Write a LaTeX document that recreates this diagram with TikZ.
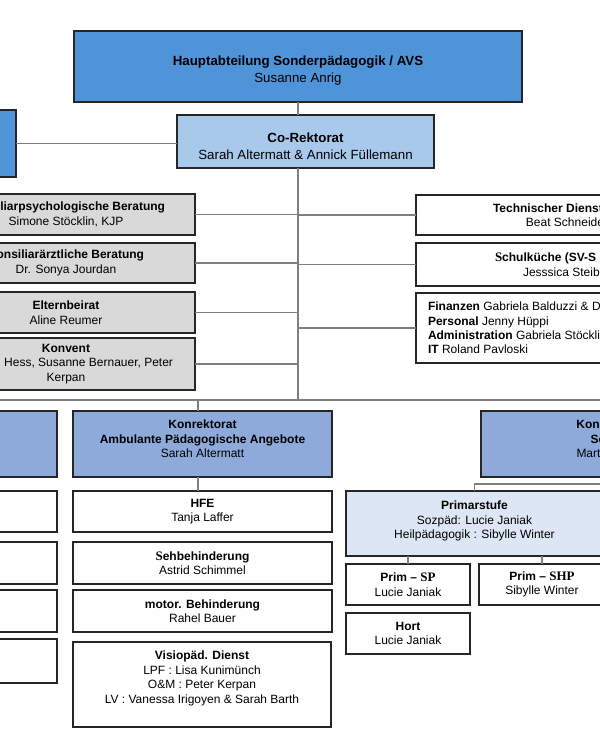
\documentclass[tikz,border=0pt]{standalone}
\usepackage{fontspec}
\setmainfont{Liberation Sans}
\newfontfamily\serifb[Scale=1.08]{Liberation Serif}
\definecolor{topblue}{HTML}{4F93D9}
\definecolor{coblue}{HTML}{A9C9EC}
\definecolor{konblue}{HTML}{8EAADB}
\definecolor{primblue}{HTML}{DCE6F4}
\definecolor{boxgray}{HTML}{D9D9D9}
\definecolor{edgecol}{HTML}{262626}
\definecolor{conncol}{HTML}{7F7F7F}
\newcommand\fsmall{\fontsize{12}{14.5}\selectfont}
\newcommand\fbig{\fontsize{13.3}{16.5}\selectfont}
\begin{document}
\begin{tikzpicture}[x=1pt,y=-1pt,
  box/.style={draw=edgecol, line width=1.2pt, inner sep=0pt, outer sep=0pt, align=center, font=\fsmall},
  conn/.style={draw=conncol, line width=1.5pt}]
\useasboundingbox (0,0) rectangle (600,740);
\clip (0,0) rectangle (600,740);
\fill[white] (0,0) rectangle (600,740);

% top
\node[box, fill=topblue, minimum width=448pt, minimum height=71pt, font=\fbig] (haupt) at (298,66.5)
  {\parbox[c][71pt][t]{448pt}{\centering\vspace*{25pt}\textbf{Hauptabteilung Sonderpädagogik / AVS}\\Susanne Anrig}};
\node[box, fill=coblue, minimum width=257pt, minimum height=53pt, font=\fbig] (co) at (305.5,141.5)
  {\parbox[c][53pt][t]{257pt}{\centering\vspace*{18pt}\textbf{Co-Rektorat}\\Sarah Altermatt \& Annick Füllemann}};
\node[box, fill=topblue, minimum width=76pt, minimum height=67pt] (lefttop) at (-22,143.5) {};

% left gray
\node[box, fill=boxgray, minimum width=258pt, minimum height=41pt] (kpb) at (66,214.5)
  {\textbf{Konsiliarpsychologische Beratung}\\Simone Stöcklin, KJP};
\node[box, fill=boxgray, minimum width=258pt, minimum height=40pt] (kab) at (66,263)
  {\textbf{Konsiliarärztliche Beratung}\\Dr. Sonya Jourdan};
\node[box, fill=boxgray, minimum width=258pt, minimum height=41pt] (eltern) at (66,312.5)
  {\textbf{Elternbeirat}\\Aline Reumer};
\node[box, fill=boxgray, minimum width=258pt, minimum height=52pt] (konvent) at (66,364)
  {\textbf{Konvent}\\\makebox[214pt][r]{Hess, Susanne Bernauer, Peter}\\Kerpan};

% right white
\node[box, fill=white, minimum width=302pt, minimum height=40pt] (tech) at (567,215)
  {\makebox[148pt][l]{\textbf{Technischer Dienst}}\\Beat Schneider};
\node[box, fill=white, minimum width=302pt, minimum height=43pt] (kueche) at (567,264.5)
  {\makebox[144pt][l]{\textbf{{\serifb S}chulküche (SV-S}}\\\makebox[88pt][l]{Jesssica Steib}};
\node[box, fill=white, minimum width=302pt, minimum height=70pt] (verw) at (567,328)
  {\parbox{302pt}{\fontsize{12}{14.2}\selectfont\raggedright\leftskip=12pt\relax
   \textbf{Finanzen} Gabriela Balduzzi \& D\\
   \textbf{Personal} Jenny Hüppi\\
   \textbf{Administration} Gabriela Stöckli\\
   \textbf{IT} Roland Pavloski}};

% konrektorate
\node[box, fill=konblue, minimum width=257pt, minimum height=66pt] (konL) at (-71.5,444) {};
\node[box, fill=konblue, minimum width=259pt, minimum height=66pt] (konA) at (202.5,444)
  {\parbox[c][66pt][t]{259pt}{\centering\vspace*{9pt}\textbf{Konrektorat}\\\textbf{Ambulante Pädagogische Angebote}\\Sarah Altermatt}};
\node[box, fill=konblue, minimum width=259pt, minimum height=66pt] (konR) at (610.5,444)
  {\parbox[c][66pt][t]{259pt}{\centering\vspace*{9pt}\textbf{Konrektorat}\\\makebox[40pt][l]{\textbf{Se}}\\\makebox[68pt][l]{Mart}}};

% left white column
\node[box, fill=white, minimum width=257pt, minimum height=41pt] (wl1) at (-71.5,511.5) {};
\node[box, fill=white, minimum width=257pt, minimum height=42pt] (wl2) at (-71.5,563) {};
\node[box, fill=white, minimum width=257pt, minimum height=42pt] (wl3) at (-71.5,611) {};
\node[box, fill=white, minimum width=257pt, minimum height=44pt] (wl4) at (-71.5,661) {};

% APA column
\node[box, fill=white, minimum width=259pt, minimum height=41pt] (hfe) at (202.5,511.5)
  {\textbf{HFE}\\Tanja Laffer};
\node[box, fill=white, minimum width=259pt, minimum height=42pt] (seh) at (202.5,563)
  {\textbf{{\serifb S}ehbehinderung}\\Astrid Schimmel};
\node[box, fill=white, minimum width=259pt, minimum height=42pt] (mot) at (202.5,611)
  {\textbf{motor. Behinderung}\\Rahel Bauer};
\node[box, fill=white, minimum width=258pt, minimum height=85pt] (vis) at (202,684.5)
  {\parbox[c][85pt][t]{258pt}{\centering\vspace*{9pt}\textbf{Visiopäd. Dienst}\\LPF : Lisa Kunimünch\\O\&M : Peter Kerpan\\LV : Vanessa Irigoyen \& Sarah Barth}};

% Primarstufe
\node[box, fill=primblue, minimum width=257pt, minimum height=65pt] (prim) at (474.5,523.5)
  {\parbox[c][65pt][t]{257pt}{\centering\vspace*{10pt}\textbf{Primarstufe}\\Sozpäd: Lucie Janiak\\Heilpädagogik : Sibylle Winter}};
\node[box, fill=white, minimum width=124pt, minimum height=41pt] (psp) at (408,584.5)
  {\textbf{Prim – {\serifb SP}}\\Lucie Janiak};
\node[box, fill=white, minimum width=126pt, minimum height=41pt] (pshp) at (542,584.5)
  {\textbf{Prim – {\serifb SHP}}\\Sibylle Winter};
\node[box, fill=white, minimum width=124pt, minimum height=41pt] (hort) at (408,633.5)
  {\textbf{Hort}\\Lucie Janiak};

% connectors
\coordinate (spine) at (298,400);
\coordinate (busW) at (-10,400);
\coordinate (busE) at (700,400);
\coordinate (konAtap) at (198,400);
\coordinate (konRj) at (610.5,484);
\draw[conn] (haupt.south) -- (haupt.south |- co.north);
\draw[conn] (lefttop.east) -- (lefttop.east -| co.west);
\draw[conn] (spine |- co.south) -- (spine);
\draw[conn] (kpb.east) -- (kpb.east -| spine);
\draw[conn] (kab.east) -- (kab.east -| spine);
\draw[conn] (eltern.east) -- (eltern.east -| spine);
\draw[conn] (konvent.east) -- (konvent.east -| spine);
\draw[conn] (tech.west) -- (tech.west -| spine);
\draw[conn] (kueche.west) -- (kueche.west -| spine);
\draw[conn] (verw.west) -- (verw.west -| spine);
\draw[conn] (busW) -- (busE);
\draw[conn] (konAtap) -- (konAtap |- konA.north);
\draw[conn] (konAtap |- konA.south) -- (konAtap |- hfe.north);
\draw[conn] (konR.south) -- (konRj) -| (prim.north);
\draw[conn] (psp.north) -- (psp.north |- prim.south);
\draw[conn] (pshp.north) -- (pshp.north |- prim.south);
\end{tikzpicture}
\end{document}
